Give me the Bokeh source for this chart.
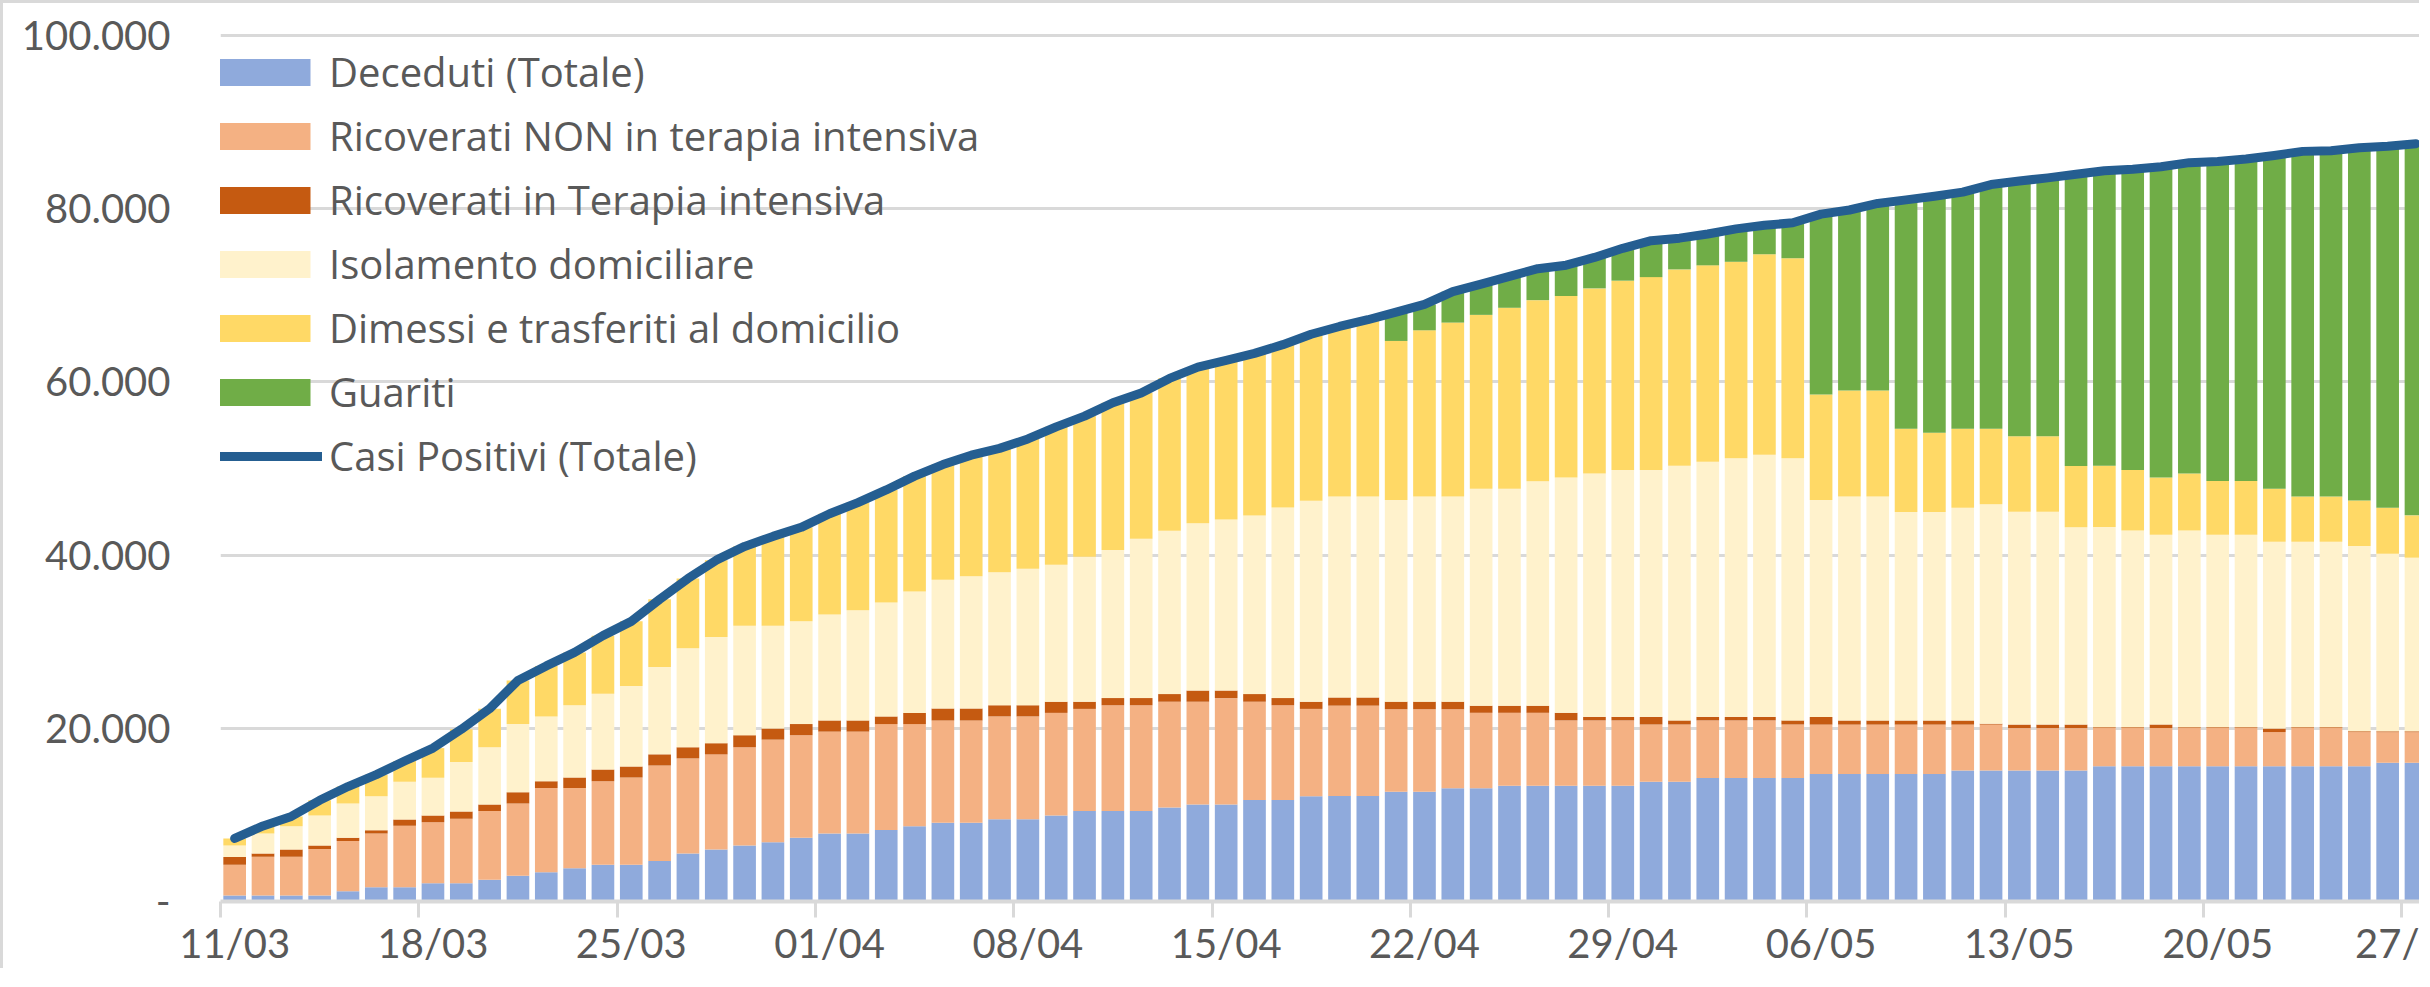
from bokeh.plotting import figure
from bokeh.models import ColumnDataSource, FixedTicker, Range1d, Legend
from bokeh.embed import file_html
from bokeh.resources import INLINE

dates = [
    "11/03", "12/03", "13/03", "14/03", "15/03", "16/03", "17/03", "18/03", "19/03", "20/03",
    "21/03", "22/03", "23/03", "24/03", "25/03", "26/03", "27/03", "28/03", "29/03", "30/03",
    "31/03", "01/04", "02/04", "03/04", "04/04", "05/04", "06/04", "07/04", "08/04", "09/04",
    "10/04", "11/04", "12/04", "13/04", "14/04", "15/04", "16/04", "17/04", "18/04", "19/04",
    "20/04", "21/04", "22/04", "23/04", "24/04", "25/04", "26/04", "27/04", "28/04", "29/04",
    "30/04", "01/05", "02/05", "03/05", "04/05", "05/05", "06/05", "07/05", "08/05", "09/05",
    "10/05", "11/05", "12/05", "13/05", "14/05", "15/05", "16/05", "17/05", "18/05", "19/05",
    "20/05", "21/05", "22/05", "23/05", "24/05", "25/05", "26/05", "27/05",
]

deceduti = [
    700, 700, 700, 700, 1190, 1650, 1650, 2110, 2110, 2500, 2960, 3380, 3840, 4250, 4250,
    4670, 5540, 6010, 6470, 6830, 7350, 7860, 7860, 8270, 8690, 9100, 9100, 9510, 9510,
    9920, 10440, 10440, 10440, 10850, 11210, 11210, 11730, 11730, 12140,
    12190, 12190, 12660, 12660, 13070, 13070, 13370, 13370, 13370, 13370, 13370, 13840,
    13840, 14250, 14250, 14250, 14250, 14720, 14720, 14720, 14720, 14720, 15130, 15130,
    15130, 15130, 15130, 15610, 15610, 15610, 15610, 15610, 15610, 15610, 15610, 15610,
    15610, 16020, 16020,
]

ricoverati = [
    3550, 4480, 4480, 5360, 5800, 6210, 7090, 7040, 7450, 7940, 8360, 9740, 9280, 9640,
    10060, 11030, 10980, 10980, 11340, 11860, 11850, 11760, 11760, 12220, 11800, 11800,
    11800, 11860, 11860, 11860, 11800, 12220, 12220, 12220, 11860, 12270, 11340, 10930,
    10100,
    10430, 10430, 9540, 9540, 9130, 8720, 8420, 8420, 7540, 7540, 7540, 6600, 6600, 6660,
    6660, 6660, 6190, 5710, 5710, 5710, 5710, 5710, 5300, 5300, 4890, 4890, 4890, 4420,
    4420, 4420, 4420, 4420, 4420, 3950, 4420, 4420, 3950, 3530, 3530,
]

terapia_intensiva = [
    880, 360, 830, 410, 360, 360, 720, 770, 830, 770, 1290, 770, 1190, 1340, 1290, 1290,
    1290, 1290, 1390, 1290, 1290, 1290, 1290, 880, 1290, 1390, 1390, 1290, 1290, 1290,
    830, 830, 830, 880, 1290, 880, 880, 830, 830,
    940, 940, 880, 880, 880, 820, 820, 820, 880, 410, 410, 880, 470, 410, 410, 410, 470,
    880, 470, 470, 470, 470, 470, 100, 410, 410, 410, 100, 100, 410, 100, 100, 100, 410,
    100, 100, 100, 100, 100,
]

isolamento = [
    1340, 2320, 2680, 3450, 3970, 3920, 4380, 4380, 5720, 6600, 7890, 7470, 8350, 8760,
    9280, 10100, 11440, 12270, 12630, 11860, 11860, 12220, 12730, 13150, 14020, 14850,
    15260, 15360, 15770, 15830, 16750, 17110, 18400, 18870, 19330, 19740, 20620, 22010,
    23200,
    23210, 23210, 23270, 23680, 23680, 25040, 25040, 25920, 27160, 28100, 28510, 28510,
    29400, 29460, 29870, 30280, 30280, 25040, 25860, 25860, 24090, 24090, 24570, 25350,
    24570, 24570, 22800, 23110, 22700, 21910, 22700, 22230, 22230, 21560, 21400, 21400,
    21400, 20520, 20050,
]

dimessi = [
    810, 860, 1130, 1760, 1960, 2510, 2380, 3410, 3780, 4450, 5020, 5840, 6100, 6710,
    7470, 7800, 8040, 8870, 9180, 10330, 10860, 11650, 12430, 13010, 13320, 13310, 13980,
    14310, 14980, 15910, 16230, 17000, 16850, 17590, 18010, 18400, 18740, 18810, 19230,
    19630, 20410, 18380, 19200, 20090, 20090, 20910, 20910, 20970, 21380, 21860, 22270,
    22680, 22680, 22680, 23150, 23090, 12190, 12250, 12250, 9600, 9130, 9130, 8720, 8720,
    8720, 7070, 7070, 7010, 6600, 6600, 6190, 6190, 6130, 5240, 5240, 5240, 5300, 4890,
]

guariti = [
    0, 0, 0, 0, 0, 0, 0, 0, 0, 0, 0, 0, 0, 0, 0, 0, 0, 0, 0, 0, 0, 0, 0, 0, 0, 0, 0, 0,
    0, 0, 0, 0, 0, 0, 0, 0, 0, 0, 0, 0, 0,
    3320, 2980, 3560, 3560, 3630, 3620, 3560, 3570, 3740, 4210, 3620, 3630, 3800, 3330,
    4090, 20820, 20830, 21590, 26420, 27310, 27310, 28190, 29480, 29840, 33670, 34080,
    34730, 35900, 35900, 36900, 37200, 38500, 39850, 39930, 40730, 41740, 42910,
]

casi_positivi = [
    7280, 8725, 9820, 11685, 13272, 14649, 16220, 17713, 19884, 22264,
    25515, 27206, 28761, 30703, 32346, 34889, 37298, 39415, 41007, 42161,
    43208, 44773, 46065, 47520, 49118, 50455, 51534, 52325, 53414, 54802,
    56048, 57592, 58729, 60400, 61700, 62500, 63300, 64300, 65500, 66400,
    67180, 68060, 68950, 70420, 71300, 72190, 73070, 73480, 74370, 75430,
    76310, 76600, 77080, 77670, 78080, 78370, 79370, 79850, 80610, 81020,
    81440, 81910, 82790, 83200, 83560, 83970, 84380, 84560, 84850, 85320,
    85440, 85740, 86150, 86620, 86700, 87030, 87210, 87500,
]

series_labels = [
    "Deceduti (Totale)",
    "Ricoverati NON in terapia intensiva",
    "Ricoverati in Terapia intensiva",
    "Isolamento domiciliare",
    "Dimessi e trasferiti al domicilio",
    "Guariti",
]
line_label = "Casi Positivi (Totale)"
series_colors = ["#8FAADC", "#F4B183", "#C55A11", "#FFF2CC", "#FFD966", "#70AD47"]
line_color = "#255E91"

y_ticks = [0, 20000, 40000, 60000, 80000, 100000]
y_tick_labels = ["-", "20.000", "40.000", "60.000", "80.000", "100.000"]
label_every = 7
# the chart is cropped at its right edge: only the start of the last date label shows
visible_chars_last_label = 3

n = len(dates)
for arr in (deceduti, ricoverati, terapia_intensiva, isolamento, dimessi, guariti, casi_positivi):
    assert len(arr) == n, len(arr)

x = [i + 0.5 for i in range(n)]
keys = ["dec", "ric", "ti", "iso", "dim", "gua"]
src = ColumnDataSource(dict(
    x=x, dec=deceduti, ric=ricoverati, ti=terapia_intensiva, iso=isolamento,
    dim=dimessi, gua=guariti, tot=casi_positivi,
))

AXFONT = "Lato"
LEGFONT = "Open Sans"
TEXT = "#595959"
GRID = "#D9D9D9"

p = figure(
    width=2419, height=968,
    output_backend="svg", toolbar_location=None,
    x_range=Range1d(0, 77.73), y_range=Range1d(0, 101040),
    min_border_left=217, min_border_right=0, min_border_top=23, min_border_bottom=70,
)
p.styles = {"border-top": "3px solid #D9D9D9", "border-left": "3px solid #D9D9D9"}
p.outline_line_color = None
p.background_fill_color = "white"
p.border_fill_color = "white"

bars = p.vbar_stack(keys, x="x", width=0.8, fill_color=series_colors, line_color=None, source=src)
ln = p.line("x", "tot", source=src, line_width=9, line_color=line_color,
            line_cap="round", line_join="round")

# x axis: labels at category centres, tick marks at category boundaries
label_idx = list(range(0, n, label_every))
overrides = {}
for i in label_idx:
    lab = dates[i]
    if i == n - 1:
        lab = lab[:visible_chars_last_label]
    overrides[i + 0.5] = lab

xa = p.xaxis[0]
xa.ticker = FixedTicker(
    ticks=[i + 0.5 for i in label_idx],
    minor_ticks=[float(i) for i in label_idx],
)
xa.major_label_overrides = overrides
xa.major_tick_line_color = None
xa.major_tick_out = 0
xa.major_tick_in = 0
xa.minor_tick_out = 16
xa.minor_tick_in = 0
xa.minor_tick_line_color = GRID
xa.minor_tick_line_width = 3
xa.axis_line_color = GRID
xa.axis_line_width = 4
xa.major_label_text_font = AXFONT
xa.major_label_text_font_size = "40px"
xa.major_label_text_line_height = 1.0
xa.major_label_text_color = TEXT
xa.major_label_standoff = 1

ya = p.yaxis[0]
yticker = FixedTicker(ticks=y_ticks)
ya.ticker = yticker
ya.major_label_overrides = dict(zip(y_ticks, y_tick_labels))
ya.axis_line_color = None
ya.major_tick_line_color = None
ya.minor_tick_line_color = None
ya.major_tick_out = 0
ya.major_tick_in = 0
ya.major_label_standoff = 50
ya.major_label_text_font = AXFONT
ya.major_label_text_font_size = "40px"
ya.major_label_text_line_height = 1.0
ya.major_label_text_color = TEXT

p.xgrid.visible = False
p.ygrid.ticker = yticker
p.ygrid.grid_line_color = GRID
p.ygrid.grid_line_width = 3

items = [(lab, [r]) for lab, r in zip(series_labels, bars)] + [(line_label, [ln])]
legend = Legend(
    items=items, location=(-18, 418),
    label_text_font=LEGFONT, label_text_font_size="40px", label_text_color=TEXT,
    glyph_width=120, glyph_height=34, label_standoff=7, spacing=9,
    padding=0, margin=0, background_fill_alpha=0, border_line_color=None,
)
p.add_layout(legend)

open("out.html", "w").write(file_html(p, INLINE))
